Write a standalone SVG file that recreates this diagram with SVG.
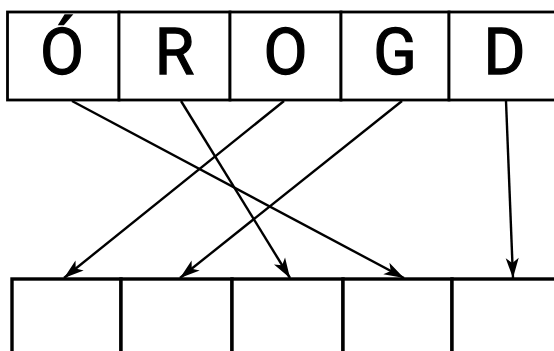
<svg xmlns="http://www.w3.org/2000/svg" width="554" height="351" viewBox="0 0 554 351">
<style>
.box{fill:#fff;stroke:#000;stroke-width:2.8}
.bbox{fill:#fff;stroke:#000;stroke-width:3.4}
.lbl{font-family:Roboto,"Liberation Sans",sans-serif;font-size:64px;font-weight:400;text-anchor:middle;fill:#000;stroke:#000;stroke-width:1.3}
.arr{stroke:#000;stroke-width:2.4;fill:none;marker-end:url(#ah)}
</style>
<defs>
<marker id="ah" markerUnits="userSpaceOnUse" markerWidth="24" markerHeight="16" viewBox="-22 -8 24 16" refX="0" refY="0" orient="auto">
<path d="M0,0 L-20,-6.5 L-15,0 L-20,6.5 Z" fill="#000"/>
</marker>
</defs>
<g id="top-row">
<g id="t1"><rect class="box" x="7.5" y="12" width="111.5" height="88"/><text class="lbl" x="62" y="74">Ó</text></g>
<g id="t2"><rect class="box" x="119" y="12" width="111" height="88"/><text class="lbl" x="174.5" y="74">R</text></g>
<g id="t3"><rect class="box" x="230" y="12" width="111" height="88"/><text class="lbl" x="285.5" y="74">O</text></g>
<g id="t4"><rect class="box" x="341" y="12" width="108" height="88"/><text class="lbl" x="395" y="74">G</text></g>
<g id="t5"><rect class="box" x="449" y="12" width="120" height="88"/><text class="lbl" x="504.5" y="74">D</text></g>
</g>
<g id="bottom-row">
<g id="b1"><rect class="bbox" x="12" y="279" width="109" height="90"/></g>
<g id="b2"><rect class="bbox" x="121" y="279" width="111" height="90"/></g>
<g id="b3"><rect class="bbox" x="232" y="279" width="111" height="90"/></g>
<g id="b4"><rect class="bbox" x="343" y="279" width="109" height="90"/></g>
<g id="b5"><rect class="bbox" x="452" y="279" width="120" height="90"/></g>
</g>
<g id="connectors">
<line class="arr" x1="72" y1="101" x2="404" y2="278"/>
<line class="arr" x1="181" y1="101" x2="290" y2="278"/>
<line class="arr" x1="284" y1="101" x2="64" y2="278"/>
<line class="arr" x1="402" y1="101" x2="180" y2="278"/>
<line class="arr" x1="506" y1="101" x2="513" y2="278"/>
</g>
</svg>
